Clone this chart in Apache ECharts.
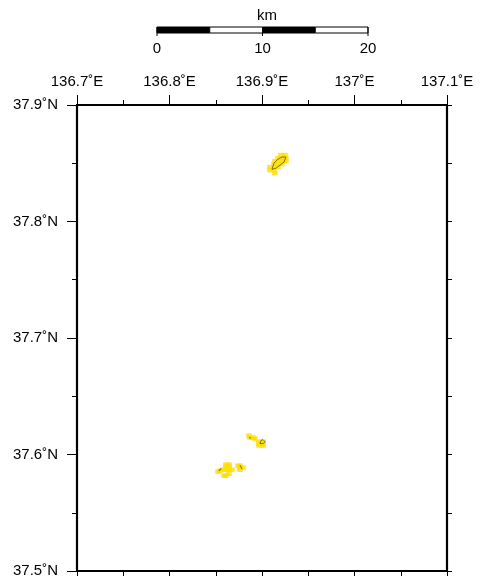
<!DOCTYPE html>
<html><head><meta charset="utf-8"><style>html,body{margin:0;background:#fff}#c{width:485px;height:580px}</style>
<script src="https://cdn.jsdelivr.net/npm/echarts@6/dist/echarts.min.js"></script></head>
<body><div id="c"></div><script>
const lonTicks=[136.7,136.8,136.9,137,137.1];
const lonLabels=['136.7˚E','136.8˚E','136.9˚E','137˚E','137.1˚E'];
const latLabels={'37.5':'37.5˚N','37.6':'37.6˚N','37.7':'37.7˚N','37.8':'37.8˚N','37.9':'37.9˚N'};
const scaleSegments=[[0,5,'#000'],[5,10,'#fff'],[10,15,'#000'],[15,20,'#fff']];
// island buffer cells (lon,lat)
const islandCells=[[136.9205,37.857],[136.9249,37.857],[136.9173,37.8544],[136.9216,37.8544],[136.9259,37.8544],
[136.914,37.8518],[136.9184,37.8518],[136.9227,37.8518],[136.9259,37.8518],[136.913,37.8493],[136.9173,37.8493],[136.9216,37.8493],
[136.9086,37.8467],[136.913,37.8467],[136.9173,37.8467],[136.9086,37.8441],[136.913,37.8441],[136.914,37.8415],
[136.8859,37.6162],[136.887,37.6145],[136.8903,37.6145],[136.8924,37.6136],[136.8968,37.611],[136.9011,37.611],[136.8968,37.6093],[136.9011,37.6093],[136.8968,37.6076],[136.9011,37.6076],
[136.8611,37.5913],[136.8643,37.5913],[136.8611,37.5895],[136.8643,37.5895],[136.8546,37.5861],[136.8578,37.587],[136.8611,37.587],[136.8643,37.587],[136.8676,37.587],[136.8524,37.5852],[136.8643,37.5835],[136.8589,37.5818],[136.8611,37.5818],
[136.8741,37.5904],[136.8762,37.5904],[136.8762,37.5887],[136.8795,37.5887],[136.8762,37.5869]];
const coastA=[[136.9108,37.8447],[136.9130,37.8501],[136.9173,37.8536],[136.9216,37.8553],[136.9259,37.8553],[136.9238,37.8510],[136.9195,37.8484],[136.9151,37.8458],[136.9108,37.8447]];
const coastB=[[136.8978,37.6095],[136.8989,37.6120],[136.9011,37.6128],[136.9033,37.6110],[136.9011,37.6093],[136.8978,37.6095]];
const coastC=[[136.8859,37.6145],[136.8881,37.6140]];
const coastD=[[136.8535,37.5860],[136.8557,37.5880],[136.8568,37.5865],[136.8535,37.5860]];
const coastE=[[136.8762,37.5910],[136.8784,37.5875]];
const F='"Liberation Sans",Arial,sans-serif';
const lab={color:'#000',fontFamily:F,fontSize:15};
const mapAxis={type:'value',axisLine:{show:true,onZero:false,lineStyle:{color:'#000',width:2.2}},splitLine:{show:false}};
const ticks=(major)=>({axisTick:{show:true,length:major,lineStyle:{color:'#000',width:1}},minorTick:{show:true,splitNumber:2,length:5,lineStyle:{color:'#000',width:1}}});
const xa=(pos,show,major)=>({...mapAxis,...ticks(major),gridIndex:0,position:pos,min:136.7,max:137.1,interval:0.1,
  axisLabel:{show,...lab,margin:16,hideOverlap:false,showMinLabel:true,showMaxLabel:true,formatter:v=>lonLabels[lonTicks.findIndex(t=>Math.abs(t-v)<1e-6)]||''}});
const ya=(pos,show,major)=>({...mapAxis,...ticks(major),gridIndex:0,position:pos,min:37.5,max:37.9,interval:0.1,
  axisLabel:{show,...lab,margin:19,padding:[2,0,0,0],hideOverlap:false,showMinLabel:true,showMaxLabel:true,formatter:v=>latLabels[v.toFixed(1)]}});
const coast=d=>({type:'line',xAxisIndex:0,yAxisIndex:0,data:d,symbol:'none',silent:true,z:5,lineStyle:{color:'#554400',width:0.7}});
const chart=echarts.init(document.getElementById('c'),null,{renderer:'canvas'});
chart.setOption({animation:false,backgroundColor:'#fff',
 title:{text:'km',left:262,top:3,textAlign:'center',textStyle:{fontFamily:F,fontSize:15,fontWeight:'normal',color:'#000'}},
 grid:[{left:77,top:105,width:370,height:466},{left:157,top:27,width:211,height:6}],
 xAxis:[xa('top',true,10),xa('bottom',false,5),
  {type:'value',gridIndex:1,position:'bottom',min:0,max:20,interval:10,axisLine:{show:false},splitLine:{show:false},
   axisTick:{show:false},axisLabel:{...lab,margin:8,showMinLabel:true,showMaxLabel:true,hideOverlap:false}}],
 yAxis:[ya('left',true,10),ya('right',false,5),
  {type:'value',gridIndex:1,min:0,max:1,show:false}],
 series:[
  {type:'scatter',xAxisIndex:0,yAxisIndex:0,data:islandCells,symbol:'rect',symbolSize:[5.5,4.5],itemStyle:{color:'#ffdd00'},silent:true,z:3},
  coast(coastA),coast(coastB),coast(coastC),coast(coastD),coast(coastE),
  {type:'custom',xAxisIndex:2,yAxisIndex:2,data:scaleSegments,silent:true,z:4,clip:false,
   renderItem:(p,api)=>{const a=api.coord([api.value(0),1]),b=api.coord([api.value(1),0]);
    return {type:'rect',shape:{x:a[0],y:a[1],width:b[0]-a[0],height:b[1]-a[1]},style:{fill:scaleSegments[p.dataIndex][2],stroke:'#000',lineWidth:1}};},encode:{x:[0,1]}},
  {type:'custom',xAxisIndex:2,yAxisIndex:2,data:[0,10,20],silent:true,z:4,clip:false,
   renderItem:(p,api)=>{const a=api.coord([api.value(0),0]);
    return {type:'line',shape:{x1:a[0],y1:a[1]-6,x2:a[0],y2:a[1]+3},style:{stroke:'#000',lineWidth:1}};},encode:{x:0}}
 ]});
</script></body></html>
